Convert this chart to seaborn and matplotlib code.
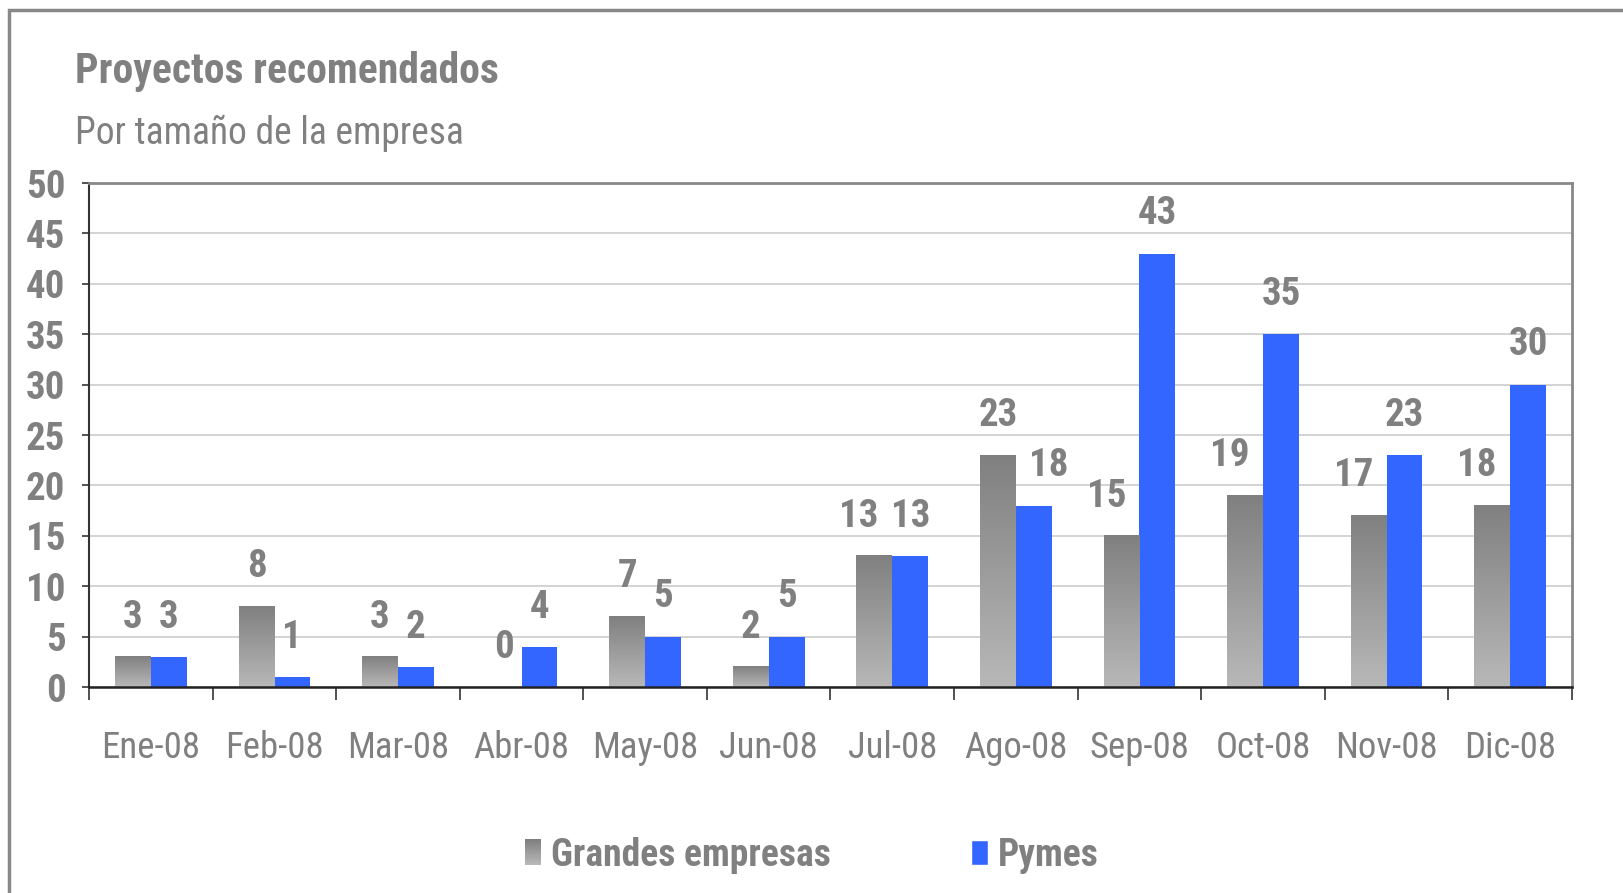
import numpy as np
import pandas as pd
import matplotlib
matplotlib.use("Agg")
import matplotlib.pyplot as plt
from matplotlib.patches import Rectangle, Patch
from matplotlib.legend_handler import HandlerBase
import seaborn as sns

# ---------------- data ----------------
months = ["Ene-08", "Feb-08", "Mar-08", "Abr-08", "May-08", "Jun-08",
          "Jul-08", "Ago-08", "Sep-08", "Oct-08", "Nov-08", "Dic-08"]
grandes = [3, 8, 3, 0, 7, 2, 13, 23, 15, 19, 17, 18]
pymes = [3, 1, 2, 4, 5, 5, 13, 18, 43, 35, 23, 30]
series_names = ["Grandes empresas", "Pymes"]
title = "Proyectos recomendados"
subtitle = "Por tamaño de la empresa"
yticks = [0, 5, 10, 15, 20, 25, 30, 35, 40, 45, 50]

# ---------------- style ----------------
sns.set_theme(style="white")
plt.rcParams["font.family"] = ["Liberation Sans Narrow", "Arial Narrow",
                               "Roboto Condensed", "Archivo Narrow",
                               "PT Sans Narrow", "DejaVu Sans"]
TXT = "#808080"
BLUE = "#3366FF"
GRAY_TOP = np.array([0x80, 0x80, 0x80]) / 255
GRAY_BOT = np.array([0xB8, 0xB8, 0xB8]) / 255

df = pd.DataFrame({
    "mes": months * 2,
    "valor": grandes + pymes,
    "serie": [series_names[0]] * len(months) + [series_names[1]] * len(months),
})

W, H = 1623, 893
fig = plt.figure(figsize=(W / 100, H / 100), dpi=100)
ax = fig.add_axes([89 / W, 1 - 687 / H, (1572 - 89) / W, (687 - 183) / H])

sns.barplot(data=df, x="mes", y="valor", hue="serie", order=months,
            hue_order=series_names, palette=["#999999", BLUE],
            width=0.58, saturation=1, linewidth=0, ax=ax, legend=False,
            errorbar=None)

# gradient fill on the "Grandes empresas" bars
grad = np.linspace(0, 1, 256)[:, None]
cols = GRAY_TOP[None, :] * (1 - grad) + GRAY_BOT[None, :] * grad
img = np.repeat(cols[:, None, :], 2, axis=1)
for p in ax.containers[0].patches:
    x0, w, h = p.get_x(), p.get_width(), p.get_height()
    if h > 0:
        p.set_facecolor("none")
        ax.imshow(img, extent=[x0, x0 + w, 0, h], aspect="auto",
                  origin="upper", zorder=p.get_zorder(), interpolation="bilinear")
ax.set_xlim(-0.5, len(months) - 0.5)
ax.set_ylim(0, 50)

# value labels (nudged sideways when the neighbouring bar would collide)
g_cont, p_cont = ax.containers[0], ax.containers[1]
for i in range(len(months)):
    g, b = g_cont.datavalues[i], p_cont.datavalues[i]
    pg, pb = g_cont.patches[i], p_cont.patches[i]
    dx_g = -11 if (g >= 10 and b >= g) else 0
    dx_b = 11 if (b >= 10 and g > b) else 0
    for p, v, dx in ((pg, g, dx_g), (pb, b, dx_b)):
        ax.annotate(f"{int(v)}", (p.get_x() + p.get_width() / 2, v),
                    xytext=(dx, 21), textcoords="offset points",
                    ha="center", va="baseline", fontsize=28,
                    fontweight="bold", color=TXT)

# grid & axes
ax.set_yticks(yticks)
ax.yaxis.grid(True, color="#CCCCCC", linewidth=1.2)
ax.set_axisbelow(True)
ax.set_xlabel("")
ax.set_ylabel("")
for s in ["top", "right"]:
    ax.spines[s].set_color("#888888")
    ax.spines[s].set_linewidth(2)
ax.spines["left"].set_color("#333333")
ax.spines["left"].set_linewidth(1.5)
ax.spines["bottom"].set_color("#222222")
ax.spines["bottom"].set_linewidth(1.8)

ax.tick_params(axis="y", which="major", left=True, length=5, width=1.2,
               color="#333333", pad=12, labelsize=28, labelcolor=TXT)
for t in ax.get_yticklabels():
    t.set_fontweight("bold")
ax.set_xticks(range(len(months)))
ax.set_xticklabels(months)
ax.set_xticks(np.arange(-0.5, len(months)), minor=True)
ax.tick_params(axis="x", which="major", bottom=True, length=0, pad=31,
               labelsize=26.5, labelcolor=TXT)
ax.tick_params(axis="x", which="minor", bottom=True, length=9, width=1.2,
               color="#333333")

# titles
fig.text(75 / W, 1 - 83 / H, title, fontsize=30, fontweight="bold",
         color=TXT, ha="left", va="baseline")
fig.text(75 / W, 1 - 144 / H, subtitle, fontsize=27, color=TXT,
         ha="left", va="baseline")

# outer frame
fig.patches.append(Rectangle((9 / W, -0.1), 1.2, 1 - 10 / H + 0.1,
                             transform=fig.transFigure, fill=False,
                             edgecolor="#888888", linewidth=2.5))


class GradHandler(HandlerBase):
    def create_artists(self, legend, orig_handle, xdescent, ydescent,
                       width, height, fontsize, trans):
        n = 24
        arts = []
        for i in range(n):
            f = i / (n - 1)
            c = GRAY_TOP * f + GRAY_BOT * (1 - f)
            r = Rectangle((-xdescent, -ydescent + height * i / n), width,
                          height / n + 0.3, facecolor=c, edgecolor="none",
                          transform=trans)
            arts.append(r)
        return arts


h_gray = Patch(facecolor="#999999", label=series_names[0])
h_blue = Patch(facecolor=BLUE, label=series_names[1])
leg = fig.legend(handles=[h_gray, h_blue], labels=series_names,
                 handler_map={h_gray: GradHandler()},
                 loc="center", bbox_to_anchor=(0.5, 1 - 855 / H), ncol=2,
                 frameon=False, prop={"size": 27, "weight": "bold"},
                 handlelength=0.45, handleheight=0.66, handletextpad=0.25,
                 columnspacing=3.75)
for t in leg.get_texts():
    t.set_color(TXT)

fig.savefig("out.png", dpi=100)
